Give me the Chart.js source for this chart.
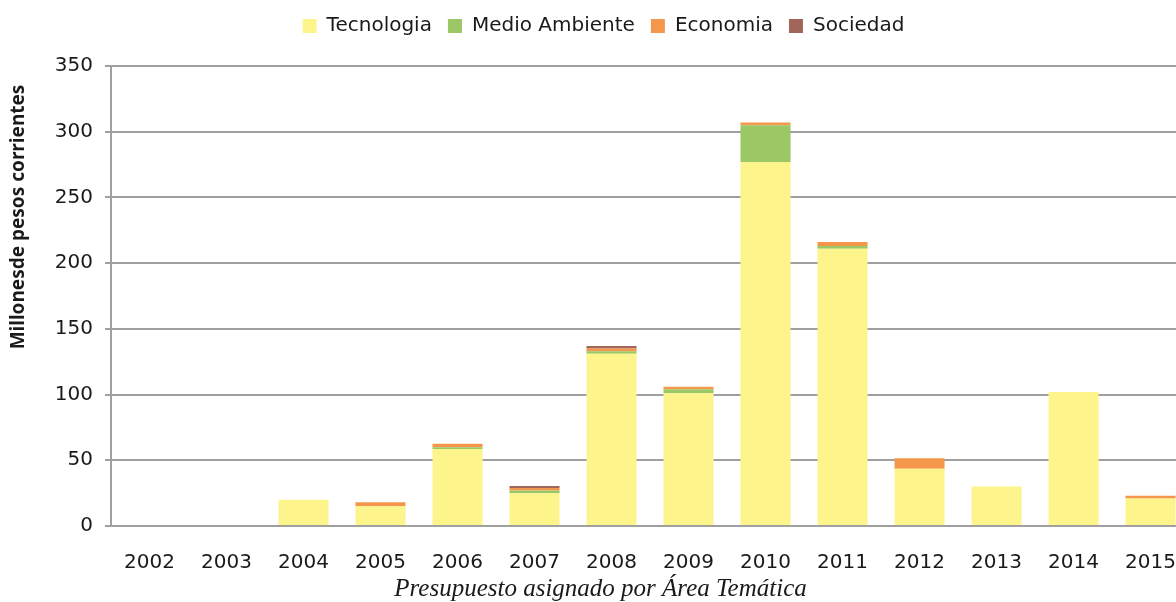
<!DOCTYPE html>
<html>
<head>
<meta charset="utf-8">
<script src="https://cdn.jsdelivr.net/npm/chart.js@4.4.1/dist/chart.umd.min.js"></script>
<style>
html,body{margin:0;padding:0;background:#fff;overflow:hidden;}
#wrap{width:1201px;height:602px;position:relative;}
</style>
</head>
<body>
<div id="wrap"><canvas id="c"></canvas></div>
<script>
const categories = ['2002','2003','2004','2005','2006','2007','2008','2009','2010','2011','2012','2013','2014','2015'];
const tecnologia     = [0, 0, 20, 15, 58.5, 25, 131, 101, 277, 211, 43.5, 30, 102, 21];
const medioAmbiente  = [0, 0, 0, 0, 1.5, 2, 2, 3, 28, 2, 0, 0, 0, 0];
const economia       = [0, 0, 0, 3, 2.5, 2, 2, 2, 2, 3, 8, 0, 0, 2];
const sociedad       = [0, 0, 0, 0, 0, 1.5, 2, 0, 0, 0, 0, 0, 0, 0];
const yTicks = [0, 50, 100, 150, 200, 250, 300, 350];
const yTitle = 'Millonesde pesos corrientes';
const xTitle = 'Presupuesto asignado por Área Temática';

const FONT = "'DejaVu Sans', sans-serif";
const TXT = '#1a1a1a';

const helperPlugin = {
  id: 'helperPlugin',
  afterInit(chart) {
    const lg = chart.legend;
    if (lg && !lg._wrapped) {
      const orig = lg.fit;
      lg.fit = function () { orig.call(this); this.height += 20; };
      lg._wrapped = true;
    }
  },
  afterLayout(chart) {
    if (chart.legend) { chart.legend.left += 3; chart.legend.right += 3; }
  },
  afterDraw(chart) {
    const ctx = chart.ctx;
    ctx.save();
    ctx.translate(19, 217);
    ctx.rotate(-Math.PI / 2);
    ctx.font = "bold 19px 'Noto Sans', sans-serif";
    ctx.fillStyle = TXT;
    ctx.textAlign = 'center';
    ctx.textBaseline = 'middle';
    ctx.fillText(yTitle, 0, 0);
    ctx.restore();
  }
};

const mk = (label, data, color) => ({
  label, data, backgroundColor: color, borderWidth: 0,
  categoryPercentage: 1.0, barPercentage: 0.65
});

new Chart(document.getElementById('c'), {
  type: 'bar',
  data: {
    labels: categories,
    datasets: [
      mk('Tecnologia', tecnologia, '#FEF48C'),
      mk('Medio Ambiente', medioAmbiente, '#9BC864'),
      mk('Economia', economia, '#F4974B'),
      mk('Sociedad', sociedad, '#A0665A')
    ]
  },
  options: {
    responsive: true,
    maintainAspectRatio: false,
    animation: false,
    layout: { padding: { left: 0, right: 0, top: 0, bottom: 0 } },
    plugins: {
      legend: {
        position: 'top',
        labels: {
          font: { family: FONT, size: 20 },
          color: TXT,
          boxWidth: 14, boxHeight: 14,
          padding: 16
        }
      },
      title: {
        display: true,
        position: 'bottom',
        text: xTitle,
        font: { family: "'Liberation Serif', serif", size: 25, style: 'italic', weight: 'normal', lineHeight: 1.0 },
        color: TXT,
        padding: { top: 0, bottom: 0 }
      },
      tooltip: { enabled: false }
    },
    scales: {
      x: {
        stacked: true,
        grid: { display: false, drawTicks: false },
        border: { display: true, color: '#a0a0a0', width: 2 },
        ticks: { font: { family: FONT, size: 20 }, color: TXT, padding: 25, maxRotation: 0, autoSkip: false },
        afterFit(scale) { scale.height = 51; }
      },
      y: {
        stacked: true,
        min: 0, max: 350,
        afterBuildTicks(scale) { scale.ticks = yTicks.map(v => ({ value: v })); },
        grid: { color: '#a0a0a0', lineWidth: 2, tickLength: 6, drawTicks: true },
        border: { display: true, color: '#a0a0a0', width: 2 },
        ticks: { font: { family: FONT, size: 20 }, color: TXT, padding: 12 },
        afterFit(scale) { scale.width = 111; }
      }
    }
  },
  plugins: [helperPlugin]
});
</script>
</body>
</html>
